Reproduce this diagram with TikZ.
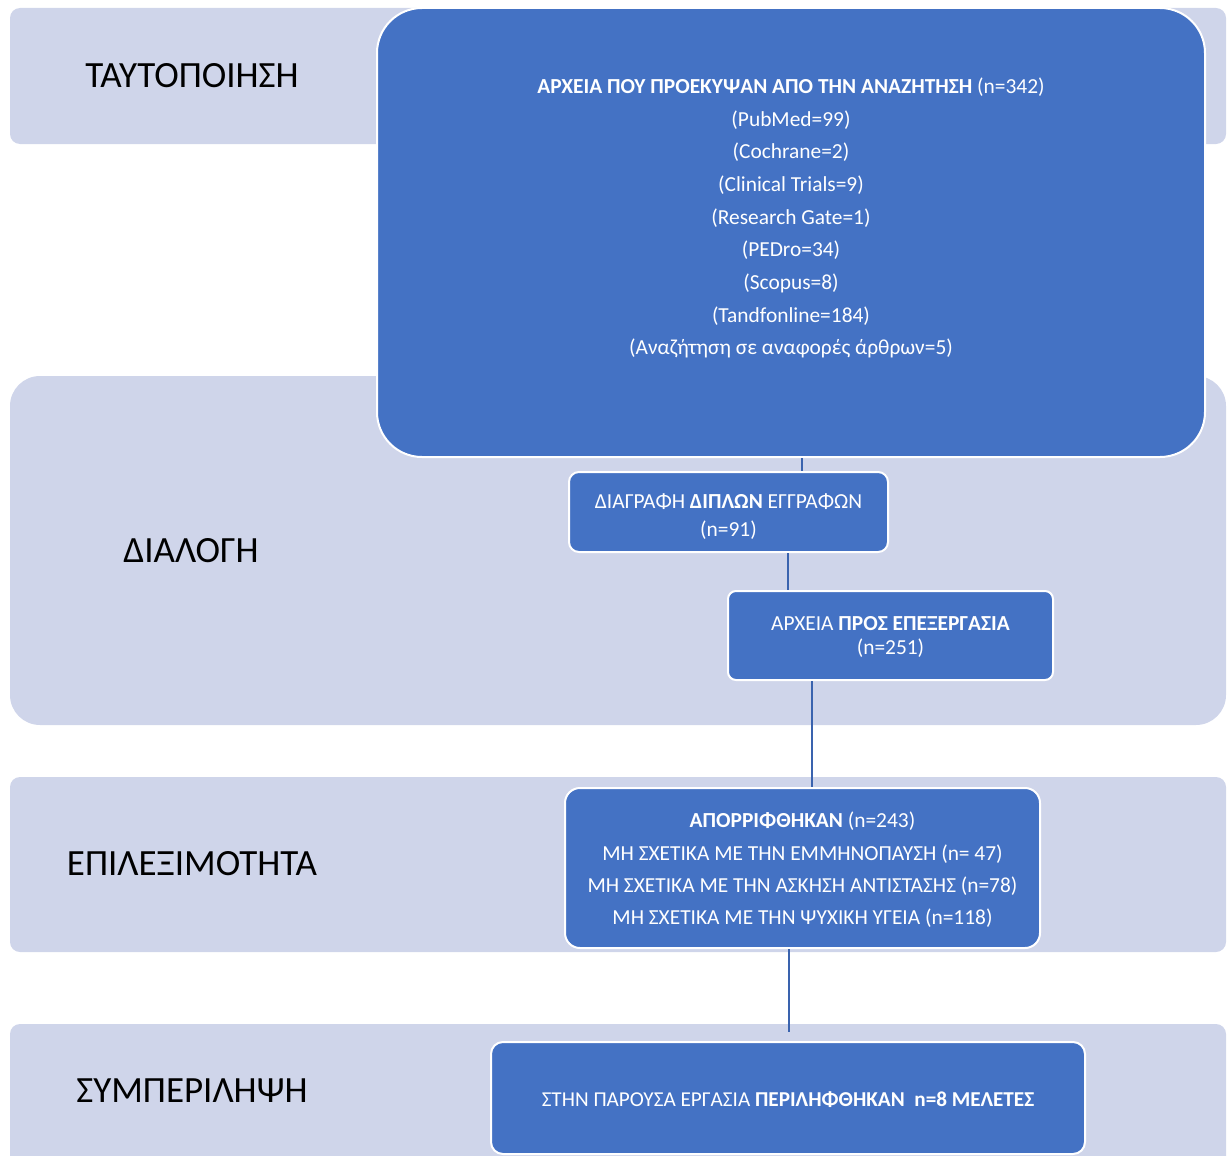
\documentclass[tikz,border=0pt]{standalone}
\usepackage{fontspec}
\setmainfont{Carlito}
\definecolor{band}{HTML}{CFD5EA}
\definecolor{boxblue}{HTML}{4472C4}
\definecolor{linkblue}{HTML}{3A63AE}
\begin{document}
\begin{tikzpicture}[x=1pt,y=-1pt,
  bandbox/.style={fill=band,draw=none},
  bluebox/.style={draw=white,line width=2pt,fill=boxblue,inner sep=0pt},
  boxtext/.style={text=white,align=center,font=\fontsize{21.4}{32.7}\selectfont,inner sep=0pt},
  phase/.style={text=black,font=\fontsize{37}{42}\selectfont,inner sep=0pt},
  link/.style={draw=linkblue,line width=2.8pt}]
\useasboundingbox (0,0) rectangle (1227,1156);
% bands
\fill[bandbox,rounded corners=10pt] (10,8) rectangle (1226,144);
\fill[bandbox,rounded corners=30pt] (10,376) rectangle (1226,725);
\fill[bandbox,rounded corners=10pt] (10,777) rectangle (1226,952);
\fill[bandbox,rounded corners=10pt] (10,1024) rectangle (1226,1180);
% phase labels
\node[phase] (p1) at (192,76) {ΤΑΥΤΟΠΟΙΗΣΗ};
\node[phase] (p2) at (191,551) {ΔΙΑΛΟΓΗ};
\node[phase] (p3) at (192,864) {ΕΠΙΛΕΞΙΜΟΤΗΤΑ};
\node[phase] (p4) at (192,1091) {ΣΥΜΠΕΡΙΛΗΨΗ};
% boxes
\node[bluebox,rounded corners=45pt,minimum width=828pt,minimum height=449pt] (search) at (791,232.5) {};
\node[bluebox,rounded corners=10pt,minimum width=319pt,minimum height=80pt] (dup) at (728.5,512) {};
\node[bluebox,rounded corners=8pt,minimum width=325pt,minimum height=89pt] (proc) at (890.5,635.5) {};
\node[bluebox,rounded corners=15pt,minimum width=475pt,minimum height=160pt] (rej) at (802.5,868) {};
\node[bluebox,rounded corners=12pt,minimum width=594pt,minimum height=112pt] (inc) at (788,1098) {};
% texts
\node[boxtext] (searcht) at (791,218) {\textbf{ΑΡΧΕΙΑ ΠΟΥ ΠΡΟΕΚΥΨΑΝ ΑΠΟ ΤΗΝ ΑΝΑΖΗΤΗΣΗ} (n=342)\\(PubMed=99)\\(Cochrane=2)\\(Clinical Trials=9)\\(Research Gate=1)\\(PEDro=34)\\(Scopus=8)\\(Tandfonline=184)\\(Αναζήτηση σε αναφορές άρθρων=5)};
\node[boxtext,font=\fontsize{21.4}{28}\selectfont] (dupt) at (728.5,517) {ΔΙΑΓΡΑΦΗ \textbf{ΔΙΠΛΩΝ} ΕΓΓΡΑΦΩΝ\\(n=91)};
\node[boxtext,font=\fontsize{21.4}{24}\selectfont] (proct) at (890.5,637) {ΑΡΧΕΙΑ \textbf{ΠΡΟΣ ΕΠΕΞΕΡΓΑΣΙΑ}\\(n=251)};
\node[boxtext,font=\fontsize{21.4}{32.3}\selectfont] (rejt) at (802.5,870) {\textbf{ΑΠΟΡΡΙΦΘΗΚΑΝ} (n=243)\\ΜΗ ΣΧΕΤΙΚΑ ΜΕ ΤΗΝ ΕΜΜΗΝΟΠΑΥΣΗ (n= 47)\\ΜΗ ΣΧΕΤΙΚΑ ΜΕ ΤΗΝ ΑΣΚΗΣΗ ΑΝΤΙΣΤΑΣΗΣ (n=78)\\ΜΗ ΣΧΕΤΙΚΑ ΜΕ ΤΗΝ ΨΥΧΙΚΗ ΥΓΕΙΑ (n=118)};
\node[boxtext,font=\fontsize{21.2}{24}\selectfont] (inct) at (788,1100) {ΣΤΗΝ ΠΑΡΟΥΣΑ ΕΡΓΑΣΙΑ \textbf{ΠΕΡΙΛΗΦΘΗΚΑΝ\ \ n=8 ΜΕΛΕΤΕΣ}};
% connectors
\draw[link] (802,0 |- search.south) -- (802,0 |- dup.north);
\draw[link] (788,0 |- dup.south) -- (788,0 |- proc.north);
\draw[link] (812,0 |- proc.south) -- (812,0 |- rej.north);
\draw[link,shorten >=9pt] (789,0 |- rej.south) -- (789,0 |- inc.north);
\end{tikzpicture}
\end{document}
